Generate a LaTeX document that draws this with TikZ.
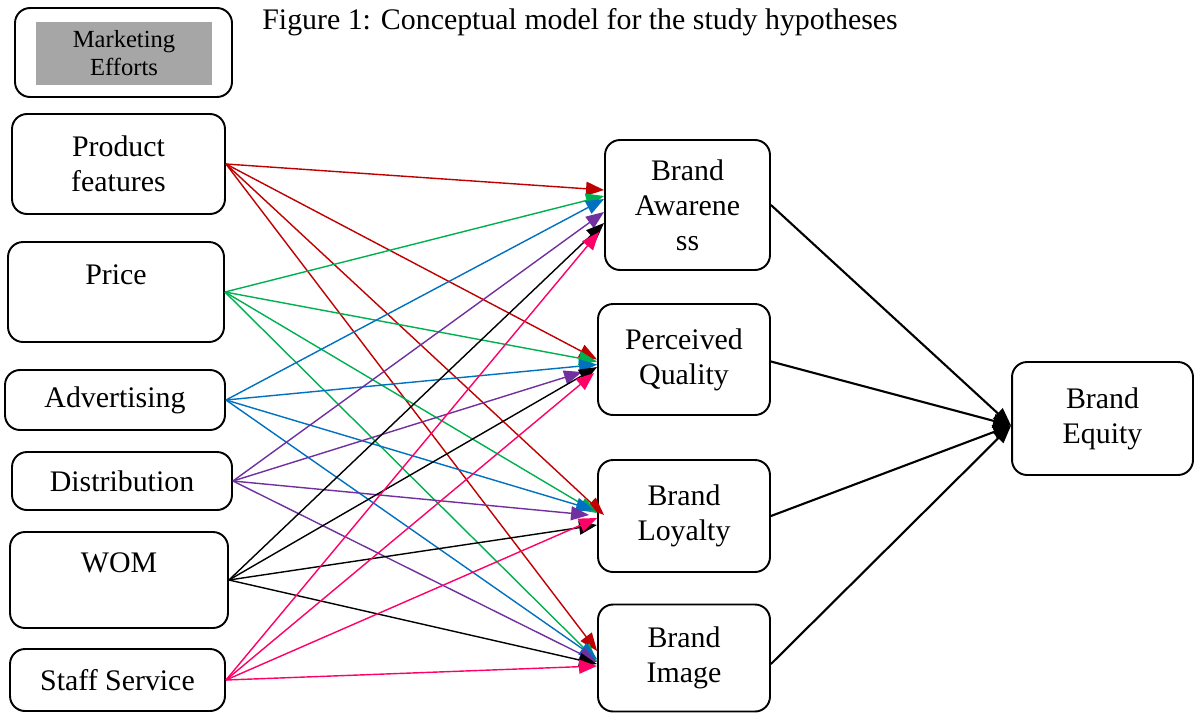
\documentclass[tikz,border=0pt]{standalone}
\usepackage{fontspec}
\setmainfont{Liberation Serif}
\usepackage{tikz}
\usetikzlibrary{arrows.meta}
\definecolor{dred}{HTML}{C00000}
\definecolor{dgreen}{HTML}{00B050}
\definecolor{dblue}{HTML}{0070C0}
\definecolor{dpurple}{HTML}{7030A0}
\definecolor{dpink}{HTML}{FF0066}
\definecolor{lgray}{HTML}{A6A6A6}
\tikzset{bx/.style={draw, rounded corners=0.3cm, line width=1.1pt, align=center, inner sep=0pt, font=\fontsize{17}{20}\selectfont}}
\tikzset{ar/.style={line width=0.8pt, -{Triangle[length=0.36cm,width=0.28cm]}}}
\tikzset{ob/.style={line width=1.2pt, -{Triangle[length=0.36cm,width=0.28cm]}}}

\begin{document}
\begin{tikzpicture}[x=0.02cm,y=-0.02cm]
            \useasboundingbox (0,0) rectangle (1195,714);
            % header
            \node[bx, minimum width=4.34cm, minimum height=1.78cm] (me) at (123.5,52.5) {};
            \node[fill=lgray, minimum width=3.52cm, minimum height=1.26cm, inner sep=0pt, align=center,
              font=\fontsize{14}{16}\selectfont] (mei) at (124,53.5) {Marketing\\Efforts};
            \node[anchor=west, inner sep=0pt, font=\fontsize{17}{20}\selectfont] (ttl) at (262,22)
              {Figure 1: Conceptual model for the study hypotheses};
            % marketing efforts
            \node[bx, minimum width=4.26cm, minimum height=2cm] (pf) at (118.5,164) {Product\\features};
            \node[bx, minimum width=4.32cm, minimum height=2cm] (pr) at (116,292) {Price\\\mbox{}};
            \node[bx, minimum width=4.4cm, minimum height=1.2cm] (ad) at (115,400) {Advertising};
            \node[bx, minimum width=4.4cm, minimum height=1.16cm] (di) at (122,481) {Distribution};
            \node[bx, minimum width=4.36cm, minimum height=1.92cm] (wo) at (119,580) {WOM\\\mbox{}};
            \node[bx, minimum width=4.3cm, minimum height=1.24cm] (ss) at (117.5,680) {Staff Service};
            % dimensions
            \node[bx, minimum width=3.3cm, minimum height=2.6cm] (ba) at (687.5,205) {Brand\\Awarene\\ss};
            \node[bx, minimum width=3.44cm, minimum height=2.22cm] (pq) at (684,359.5) {Perceived\\Quality};
            \node[bx, minimum width=3.44cm, minimum height=2.24cm] (bl) at (684,516) {Brand\\Loyalty};
            \node[bx, minimum width=3.44cm, minimum height=2.14cm] (bi) at (684,658) {Brand\\Image};
            \node[bx, minimum width=3.62cm, minimum height=2.26cm] (be) at (1102.5,418.5) {Brand\\Equity};
            % hypotheses
            \path[dred] (pf.east)
              edge[ar] ([yshift=0.3cm]ba.west)
              edge[ar] (pq.west)
              edge[ar] ([yshift=0.02cm, xshift=0.14cm]bl.west)
              edge[ar] ([yshift=0.14cm]bi.west);
            \path[dgreen] (pr.east)
              edge[ar] ([yshift=0.18cm]ba.west)
              edge[ar] ([yshift=-0.04cm]pq.west)
              edge[ar] ([yshift=0.06cm]bl.west)
              edge[ar] ([yshift=-0.06cm]bi.west);
            \path[dblue] (ad.east)
              edge[ar] ([yshift=0.12cm]ba.west)
              edge[ar] ([yshift=-0.1cm]pq.west)
              edge[ar] ([yshift=0.12cm, xshift=-0.06cm]bl.west)
              edge[ar] ([yshift=-0.02cm]bi.west);
            \path[dpurple] (di.east)
              edge[ar] ([yshift=-0.14cm]ba.west)
              edge[ar] ([yshift=-0.25cm, xshift=-0.3cm]pq.west)
              edge[ar] ([yshift=0.02cm, xshift=-0.16cm]bl.west)
              edge[ar] ([yshift=-0.08cm]bi.west);
            \path[black] (wo.east)
              edge[ar] ([yshift=-0.36cm]ba.west)
              edge[ar] ([yshift=-0.15cm]pq.west)
              edge[ar] ([yshift=-0.18cm]bl.west)
              edge[ar] ([yshift=-0.12cm]bi.west);
            \path[dpink] (ss.east)
              edge[ar] ([yshift=-0.54cm, xshift=-0.1cm]ba.west)
              edge[ar] ([yshift=-0.27cm, xshift=-0.06cm]pq.west)
              edge[ar] ([yshift=-0.04cm]bl.west)
              edge[ar] ([yshift=-0.16cm]bi.west);
            % brand equity
            \draw[ob] (ba.east) -- ([yshift=-0.14cm]be.west);
            \draw[ob] ([yshift=-0.04cm]pq.east) -- ([yshift=-0.14cm]be.west);
            \draw[ob] (bl.east) -- ([yshift=-0.14cm]be.west);
            \draw[ob] ([yshift=-0.12cm]bi.east) -- ([yshift=-0.14cm]be.west);
          \end{tikzpicture}
\end{document}
